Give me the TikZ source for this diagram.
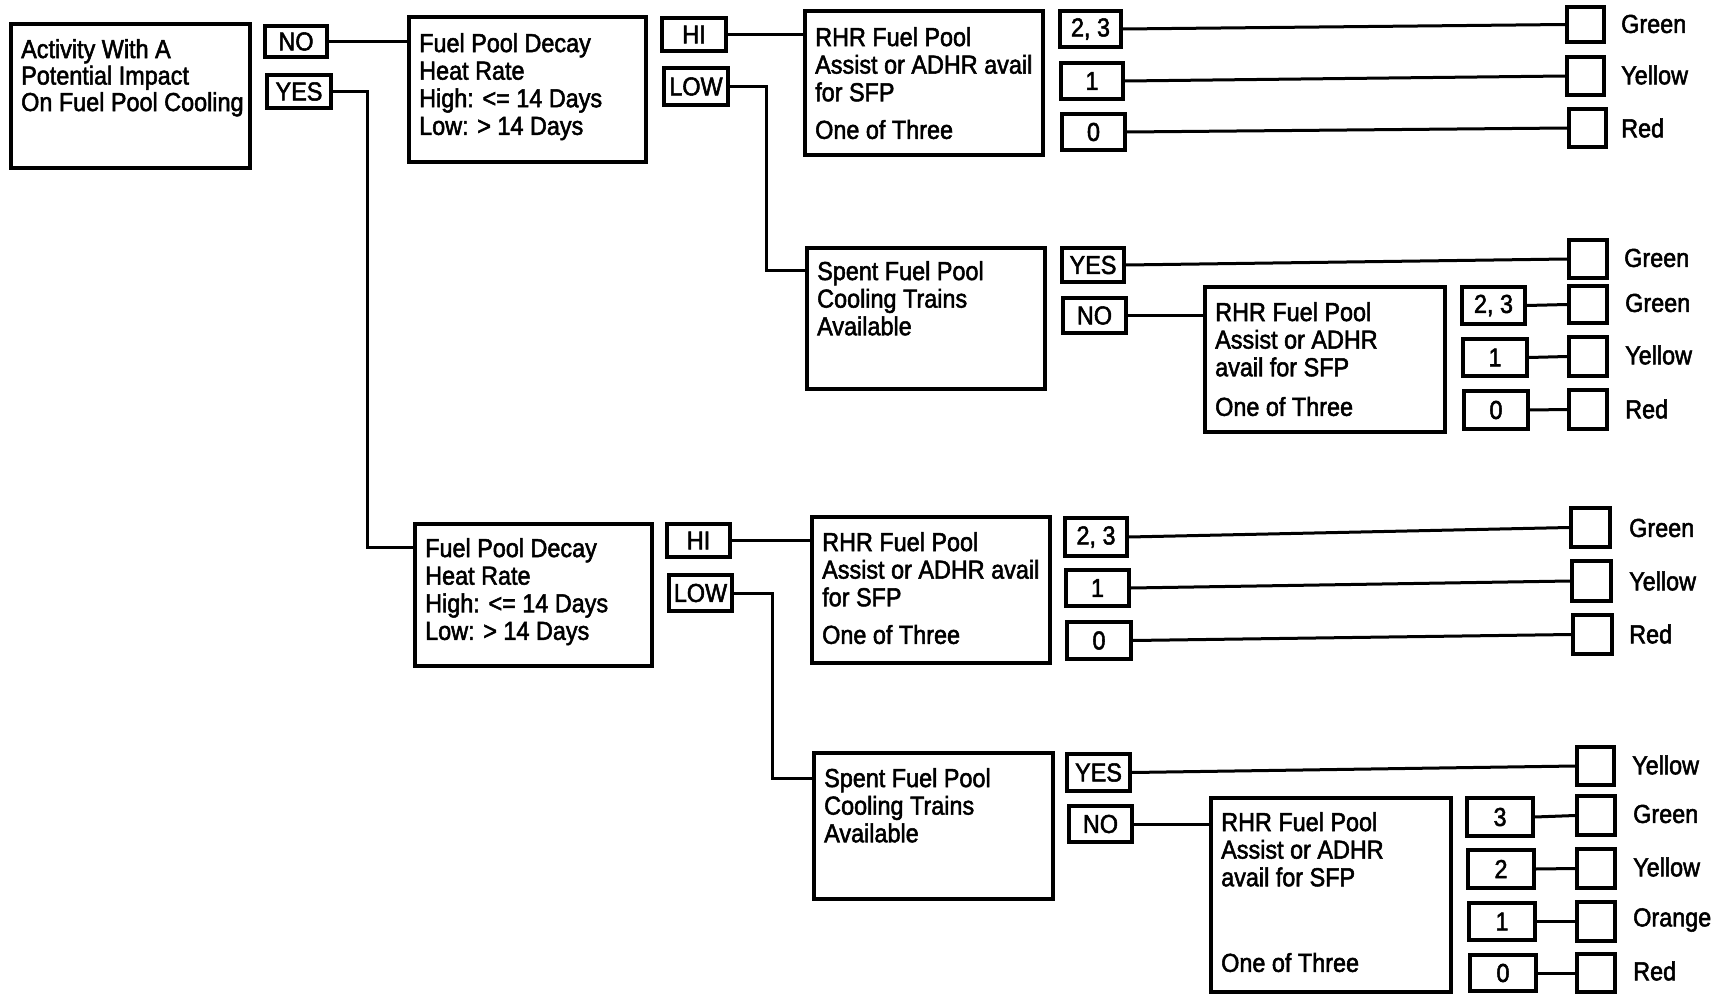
\documentclass[tikz,border=0pt]{standalone}
\usepackage{fontspec}
\setmainfont{Liberation Sans}[FakeStretch=0.9,FakeBold=2]
\newcommand{\mybox}[6]{%
  \pgfmathsetmacro{\mbw}{#4-#2}\pgfmathsetmacro{\mbh}{#5-#3}%
  \node[bx, minimum width=\mbw pt, minimum height=\mbh pt] (#1) at ({(#2+#4)/2},{(#3+#5)/2}) {#6};}
\begin{document}
\begin{tikzpicture}[x=1pt,y=-1pt,
  bx/.style={draw, line width=3.4pt, inner sep=0pt, font=\fontsize{26}{27.6}\selectfont},
  txt/.style={anchor=north west, inner sep=0pt, align=left, font=\fontsize{26}{27.6}\selectfont},
  lbl/.style={anchor=west, inner sep=0pt, font=\fontsize{26}{27.6}\selectfont},
  ln/.style={line width=3pt}]
\useasboundingbox (0,0) rectangle (1729,995);
% ---------- root ----------
\mybox{act}{11}{24}{250}{168}{}
\node[txt, font=\fontsize{26}{26.5}\selectfont] (actt) at (21,39) {Activity With A\\Potential Impact\\On Fuel Pool Cooling};
\mybox{no1}{265}{26}{327}{57}{NO}
\mybox{yes1}{267}{75}{331}{108}{YES}
% ---------- upper branch ----------
\mybox{fpd1}{409}{17}{646}{162}{}
\node[txt] (fpd1t) at (419,33) {Fuel Pool Decay\\Heat Rate\\High: <= 14 Days\\Low: > 14 Days};
\mybox{hi1}{662}{18}{726}{51}{HI}
\mybox{low1}{664}{68}{728}{105}{LOW}
\mybox{rhr1}{805}{11}{1043}{155}{}
\node[txt] (rhr1t) at (815,27) {RHR Fuel Pool\\Assist or ADHR avail\\for SFP\\[10pt]One of Three};
\mybox{a23}{1060}{11}{1121}{47}{2, 3}
\mybox{a1}{1061}{63}{1123}{99}{1}
\mybox{a0}{1062}{114}{1125}{150}{0}
\mybox{sa1}{1567}{7}{1604}{42}{}
\mybox{sa2}{1567}{57}{1604}{95}{}
\mybox{sa3}{1569}{109}{1606}{147}{}
\node[lbl] (la1) at (1621,24) {Green};
\node[lbl] (la2) at (1621,75) {Yellow};
\node[lbl] (la3) at (1621,128) {Red};
\mybox{sfp1}{807}{248}{1045}{389}{}
\node[txt] (sfp1t) at (817,261) {Spent Fuel Pool\\Cooling Trains\\Available};
\mybox{yes2}{1062}{248}{1124}{282}{YES}
\mybox{no2}{1063}{298}{1126}{333}{NO}
\mybox{sb0}{1569}{240}{1607}{278}{}
\node[lbl] (lb0) at (1624,258) {Green};
\mybox{rhr2}{1205}{287}{1445}{432}{}
\node[txt] (rhr2t) at (1215,302) {RHR Fuel Pool\\Assist or ADHR\\avail for SFP\\[12pt]One of Three};
\mybox{b23}{1462}{287}{1525}{324}{2, 3}
\mybox{b1}{1463}{339}{1527}{376}{1}
\mybox{b0}{1464}{391}{1528}{429}{0}
\mybox{sb1}{1569}{286}{1607}{323}{}
\mybox{sb2}{1569}{337}{1607}{376}{}
\mybox{sb3}{1569}{390}{1607}{429}{}
\node[lbl] (lb1) at (1625,303) {Green};
\node[lbl] (lb2) at (1625,355) {Yellow};
\node[lbl] (lb3) at (1625,409) {Red};
% ---------- lower branch ----------
\mybox{fpd2}{415}{524}{652}{666}{}
\node[txt] (fpd2t) at (425,538) {Fuel Pool Decay\\Heat Rate\\High: <= 14 Days\\Low: > 14 Days};
\mybox{hi2}{667}{524}{730}{557}{HI}
\mybox{low2}{669}{575}{732}{611}{LOW}
\mybox{rhr3}{812}{517}{1050}{663}{}
\node[txt] (rhr3t) at (822,532) {RHR Fuel Pool\\Assist or ADHR avail\\for SFP\\[10pt]One of Three};
\mybox{c23}{1065}{518}{1127}{556}{2, 3}
\mybox{c1}{1066}{570}{1129}{606}{1}
\mybox{c0}{1067}{622}{1131}{659}{0}
\mybox{sc1}{1571}{508}{1610}{547}{}
\mybox{sc2}{1572}{561}{1611}{601}{}
\mybox{sc3}{1573}{615}{1612}{654}{}
\node[lbl] (lc1) at (1629,528) {Green};
\node[lbl] (lc2) at (1629,581) {Yellow};
\node[lbl] (lc3) at (1629,634) {Red};
\mybox{sfp2}{814}{753}{1053}{899}{}
\node[txt] (sfp2t) at (824,768) {Spent Fuel Pool\\Cooling Trains\\Available};
\mybox{yes3}{1067}{754}{1130}{791}{YES}
\mybox{no3}{1069}{806}{1132}{842}{NO}
\mybox{sd0}{1577}{747}{1614}{785}{}
\node[lbl] (ld0) at (1632,765) {Yellow};
\mybox{rhr4}{1211}{798}{1451}{992}{}
\node[txt] (rhr4t) at (1221,812) {RHR Fuel Pool\\Assist or ADHR\\avail for SFP\\[58pt]One of Three};
\mybox{d3}{1467}{798}{1533}{836}{3}
\mybox{d2}{1468}{850}{1534}{888}{2}
\mybox{d1}{1469}{903}{1535}{940}{1}
\mybox{d0}{1470}{955}{1536}{991}{0}
\mybox{sd1}{1577}{796}{1615}{835}{}
\mybox{sd2}{1577}{849}{1615}{888}{}
\mybox{sd3}{1577}{902}{1615}{941}{}
\mybox{sd4}{1577}{954}{1615}{992}{}
\node[lbl] (ld1) at (1633,814) {Green};
\node[lbl] (ld2) at (1633,867) {Yellow};
\node[lbl] (ld3) at (1633,920) {Orange};
\node[lbl] (ld4) at (1633,971) {Red};
% ---------- connectors ----------
\coordinate (j1) at (367,547);
\coordinate (j2) at (766,270);
\coordinate (j3) at (772,778);
\draw[ln] (no1.east) -- (no1.east -| fpd1.west);
\draw[ln] (yes1.east) -| (j1) -- (j1 -| fpd2.west);
\draw[ln] (hi1.east) -- (hi1.east -| rhr1.west);
\draw[ln] (low1.east) -| (j2) -- (j2 -| sfp1.west);
\draw[ln] (a23.east) -- (sa1.west);
\draw[ln] (a1.east) -- (sa2.west);
\draw[ln] (a0.east) -- (sa3.west);
\draw[ln] (yes2.east) -- (sb0.west);
\draw[ln] (no2.east) -- (no2.east -| rhr2.west);
\draw[ln] (b23.east) -- (sb1.west);
\draw[ln] (b1.east) -- (sb2.west);
\draw[ln] (b0.east) -- (sb3.west);
\draw[ln] (hi2.east) -- (hi2.east -| rhr3.west);
\draw[ln] (low2.east) -| (j3) -- (j3 -| sfp2.west);
\draw[ln] (c23.east) -- (sc1.west);
\draw[ln] (c1.east) -- (sc2.west);
\draw[ln] (c0.east) -- (sc3.west);
\draw[ln] (yes3.east) -- (sd0.west);
\draw[ln] (no3.east) -- (no3.east -| rhr4.west);
\draw[ln] (d3.east) -- (sd1.west);
\draw[ln] (d2.east) -- (sd2.west);
\draw[ln] (d1.east) -- (sd3.west);
\draw[ln] (d0.east) -- (sd4.west);
\end{tikzpicture}
\end{document}
